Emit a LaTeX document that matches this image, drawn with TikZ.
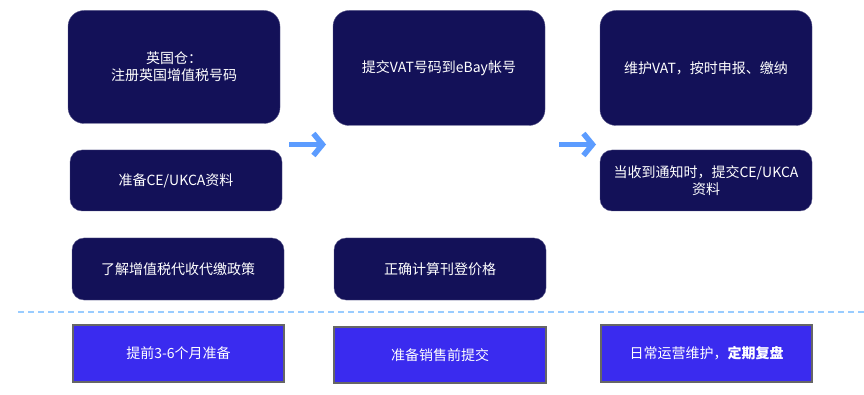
\documentclass[tikz,border=0pt]{standalone}
\usepackage{fontspec}
\setmainfont{Noto Sans CJK SC}
\usetikzlibrary{arrows.meta}

\definecolor{boxnavy}{RGB}{19,17,88}
\definecolor{boxblue}{RGB}{58,43,239}
\definecolor{arrowblue}{RGB}{92,156,255}
\definecolor{dashblue}{RGB}{153,204,255}

\tikzset{
    taskbox/.style = {draw = boxnavy!70!white, fill = boxnavy, rounded corners = 12pt, text = white, align = center, font = \fontsize{14}{17}\selectfont, inner sep = 0pt},
    timebox/.style = {draw = gray!80!black, line width = 1.2pt, fill = boxblue, text = white, align = center, font = \fontsize{14}{17}\selectfont, inner sep = 0pt},
    steparrow/.style = {draw = arrowblue, line width = 5.5pt, -{Straight Barb[length = 9pt, width = 22pt, line width = 5.5pt]}}
}

\begin{document}
\begin{tikzpicture}[x = 1pt, y = -1pt]
    % Page frame
    \useasboundingbox (0,0) rectangle (864,395);

    % First column
    \node[taskbox, minimum width = 212pt, minimum height = 113pt, rounded corners = 16pt] (uk) at (174,67) {英国仓：\\注册英国增值税号码};
    \node[taskbox, minimum width = 212pt, minimum height = 61pt] (ce) at (176,180.5) {准备CE/UKCA资料};
    \node[taskbox, minimum width = 212pt, minimum height = 62pt] (policy) at (178,269) {了解增值税代收代缴政策};

    % Second column
    \node[taskbox, minimum width = 212pt, minimum height = 115pt, rounded corners = 16pt] (ebay) at (439,68) {提交VAT号码到eBay帐号};
    \node[taskbox, minimum width = 212pt, minimum height = 62pt] (price) at (440,269) {正确计算刊登价格};

    % Third column
    \node[taskbox, minimum width = 212pt, minimum height = 115pt, rounded corners = 16pt] (keep) at (706,68) {维护VAT，按时申报、缴纳};
    \node[taskbox, minimum width = 212pt, minimum height = 61pt] (notice) at (706,180.5) {当收到通知时，提交CE/UKCA\\资料};

    % Arrows between columns
    \coordinate (a1) at (289,144.5);
    \coordinate (b1) at (326,144.5);
    \coordinate (a2) at (559,144.5);
    \coordinate (b2) at (596,144.5);
    \draw[steparrow] (a1) -- (b1);
    \draw[steparrow] (a2) -- (b2);

    % Separator line
    \coordinate (L) at (18,312);
    \coordinate (R) at (864,312);
    \draw[dashblue, line width = 1.3pt, dash pattern = on 6pt off 4pt] (L) -- (R);

    % Timing row
    \node[timebox, minimum width = 211pt, minimum height = 57pt] (early) at (178.5,353.5) {提前3-6个月准备};
    \node[timebox, minimum width = 212pt, minimum height = 56pt] (presale) at (440,355) {准备销售前提交};
    \node[timebox, minimum width = 211pt, minimum height = 57pt] (daily) at (706.5,353.5) {日常运营维护，\textbf{定期复盘}};
\end{tikzpicture}
\end{document}
